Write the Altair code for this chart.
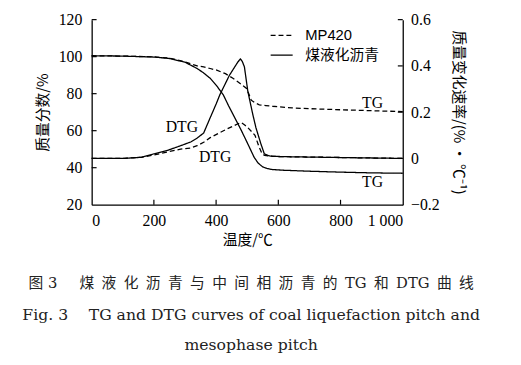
import altair as alt
import pandas as pd

# ---- data ----
# coal liquefaction pitch (solid)
cl_tg_t = [0, 100, 200, 250, 275, 300, 339, 360, 381, 402, 423, 440, 460, 480, 497, 510, 522, 535, 550, 565, 581, 620, 700, 800, 900, 1000]
cl_tg_v = [100.5, 100.3, 99.8, 99.0, 98.0, 97.0, 93.6, 91.2, 88.3, 84.2, 79.4, 73.5, 67.0, 60.5, 54.6, 50.0, 45.7, 42.5, 40.4, 39.5, 39.0, 38.6, 38.1, 37.6, 37.2, 37.0]
cl_dtg_t = [0, 100, 160, 200, 244, 286, 320, 339, 360, 381, 400, 412, 443, 470, 478, 484, 491, 502, 518, 528, 544, 555, 568, 581, 650, 800, 1000]
cl_dtg_v = [0.0, 0.0, 0.005, 0.02, 0.035, 0.055, 0.072, 0.088, 0.11, 0.176, 0.235, 0.275, 0.36, 0.417, 0.43, 0.42, 0.396, 0.29, 0.19, 0.133, 0.063, 0.02, 0.012, 0.009, 0.007, 0.004, 0.0]
# MP420 (dashed)
mp_tg_t = [0, 100, 200, 250, 275, 300, 339, 360, 381, 402, 430, 454, 475, 497, 505, 513, 525, 539, 560, 581, 644, 700, 800, 900, 1000]
mp_tg_v = [100.5, 100.3, 99.9, 99.2, 98.3, 97.2, 95.0, 94.5, 93.6, 92.7, 90.8, 88.3, 85.8, 83.0, 80.0, 76.5, 75.0, 74.0, 73.6, 73.2, 72.3, 71.9, 71.3, 70.8, 70.3]
mp_dtg_t = [0, 100, 160, 200, 250, 286, 317, 339, 360, 381, 410, 433, 455, 470, 481, 492, 502, 515, 525, 538, 548, 556, 570, 600, 800, 1000]
mp_dtg_v = [0.0, 0.0, 0.005, 0.015, 0.03, 0.04, 0.045, 0.055, 0.07, 0.09, 0.11, 0.126, 0.14, 0.15, 0.155, 0.145, 0.133, 0.115, 0.1, 0.05, 0.02, 0.013, 0.01, 0.008, 0.004, 0.0]

series_names = ["MP420", "煤液化沥青"]

# annotation labels: text, temperature, mass-% position
ann_text = ["DTG", "DTG", "TG", "TG"]
ann_t = [290, 397, 903, 903]
ann_v = [61.7, 46.0, 75.0, 32.4]

left_ticks = [20, 40, 60, 80, 100, 120]
right_ticks = [-0.2, 0, 0.2, 0.4, 0.6]
x_ticks = [0, 200, 400, 600, 800, 1000]

caption1 = "图 3\u2003\u2002" + "\u2002".join("煤液化沥青与中间相沥青的") + "\u2002TG\u2002和\u2002DTG\u2002" + "\u2002".join("曲线")
caption2 = "Fig. 3\u2003 TG and DTG curves of coal liquefaction pitch and"
caption3 = "mesophase pitch"

# ---- build table ----
rows = []
for name, kind, ts, vs in [
    ("煤液化沥青", "TG", cl_tg_t, cl_tg_v),
    ("煤液化沥青", "DTG", cl_dtg_t, cl_dtg_v),
    ("MP420", "TG", mp_tg_t, mp_tg_v),
    ("MP420", "DTG", mp_dtg_t, mp_dtg_v),
]:
    for t, v in zip(ts, vs):
        rows.append({"series": name, "kind": kind, "T": t, "v": v})
df = pd.DataFrame(rows)

W, H = 316, 188
FONT_CJK = "Noto Sans CJK SC"

xscale = alt.Scale(domain=[0, 1000], nice=False)
yscale = alt.Scale(domain=[20, 120], nice=False)
xaxis = alt.Axis(values=x_ticks, title="温度/℃", labelExpr="datum.value == 1000 ? '1 000' : datum.label",
                 labelPadding=8, titlePadding=4, orient="bottom")

lines = alt.Chart(df).transform_calculate(
    y="datum.kind == 'DTG' ? 45 + 125 * datum.v : datum.v",
    grp="datum.series + datum.kind",
).mark_line(color="black", strokeWidth=1.3).encode(
    x=alt.X("T:Q", scale=xscale, axis=xaxis),
    y=alt.Y("y:Q", scale=yscale,
            axis=alt.Axis(values=left_ticks, title="质量分数/%", orient="left", labelPadding=10, titlePadding=8)),
    strokeDash=alt.StrokeDash("series:N",
        scale=alt.Scale(domain=series_names, range=[[5, 3], [1, 0]]),
        legend=alt.Legend(orient="none", legendX=181, legendY=4, title=None, symbolType="stroke",
                          symbolSize=500, symbolStrokeWidth=1.3, symbolStrokeColor="black",
                          labelFont="Liberation Sans, Noto Sans CJK SC", labelFontSize=15, labelColor="black",
                          labelOffset=12, rowPadding=0, padding=0)),
    detail="grp:N",
    order="T:Q",
)

# right axis: same scale, labels converted to DTG units
right = alt.Chart(pd.DataFrame({"r": right_ticks})).transform_calculate(
    y="45 + 125 * datum.r"
).mark_point(opacity=0).encode(
    y=alt.Y("y:Q", scale=yscale,
            axis=alt.Axis(values=[45 + 125 * r for r in right_ticks], orient="right",
                          title="质量变化速率/(%\u2009•\u2009℃⁻¹)",
                          labelExpr="datum.value == 45 ? '0' : format((datum.value - 45) / 125, '.1f')",
                          labelPadding=8, titlePadding=12)),
    x=alt.value(W),
)

# inward ticks
xt = alt.Chart(pd.DataFrame({"T": x_ticks[1:-1]})).mark_rule(color="black", strokeWidth=1.2).encode(
    x=alt.X("T:Q", scale=xscale, axis=xaxis), y=alt.value(H), y2=alt.value(H - 5))
lt = alt.Chart(pd.DataFrame({"y": left_ticks[1:]})).mark_rule(color="black", strokeWidth=1.2).encode(
    y=alt.Y("y:Q", scale=yscale, axis=None), x=alt.value(0), x2=alt.value(5))
rt = alt.Chart(pd.DataFrame({"r": right_ticks[1:]})).transform_calculate(y="45 + 125 * datum.r").mark_rule(
    color="black", strokeWidth=1.2).encode(
    y=alt.Y("y:Q", scale=yscale, axis=None), x=alt.value(W - 5), x2=alt.value(W))

ann = alt.Chart(pd.DataFrame({"text": ann_text, "T": ann_t, "v": ann_v})).mark_text(
    font="Liberation Serif", fontSize=16, color="black").encode(
    x=alt.X("T:Q", scale=xscale, axis=xaxis), y=alt.Y("v:Q", scale=yscale, axis=None), text="text:N")

cap_df = pd.DataFrame({"k": [1]})
cap1 = alt.Chart(cap_df).mark_text(font="DejaVu Serif, Noto Sans CJK SC", fontSize=15, color="#222").encode(
    x=alt.value(162), y=alt.value(268), text=alt.value(caption1))
cap2 = alt.Chart(cap_df).mark_text(font="DejaVu Serif", fontSize=15.9, color="#222").encode(
    x=alt.value(162), y=alt.value(300), text=alt.value(caption2))
cap3 = alt.Chart(cap_df).mark_text(font="DejaVu Serif", fontSize=15.9, color="#222").encode(
    x=alt.value(162), y=alt.value(331), text=alt.value(caption3))

chart = alt.layer(lines, right, xt, lt, rt, ann, cap1, cap2, cap3).resolve_axis(
    y="independent"
).properties(
    width=W, height=H,
    padding={"left": 85, "top": 9, "right": 112, "bottom": 160},
    autosize=alt.AutoSizeParams(type="none"),
).configure_view(stroke=None).configure_axis(
    grid=False, ticks=False, domainColor="black", domainWidth=1.3,
    labelFont="Liberation Serif", labelFontSize=16, labelColor="black",
    titleFont=FONT_CJK, titleFontSize=15, titleFontWeight="normal", titleColor="black",
)

chart.save("out.html", embed_options={"renderer": "svg", "actions": False})
